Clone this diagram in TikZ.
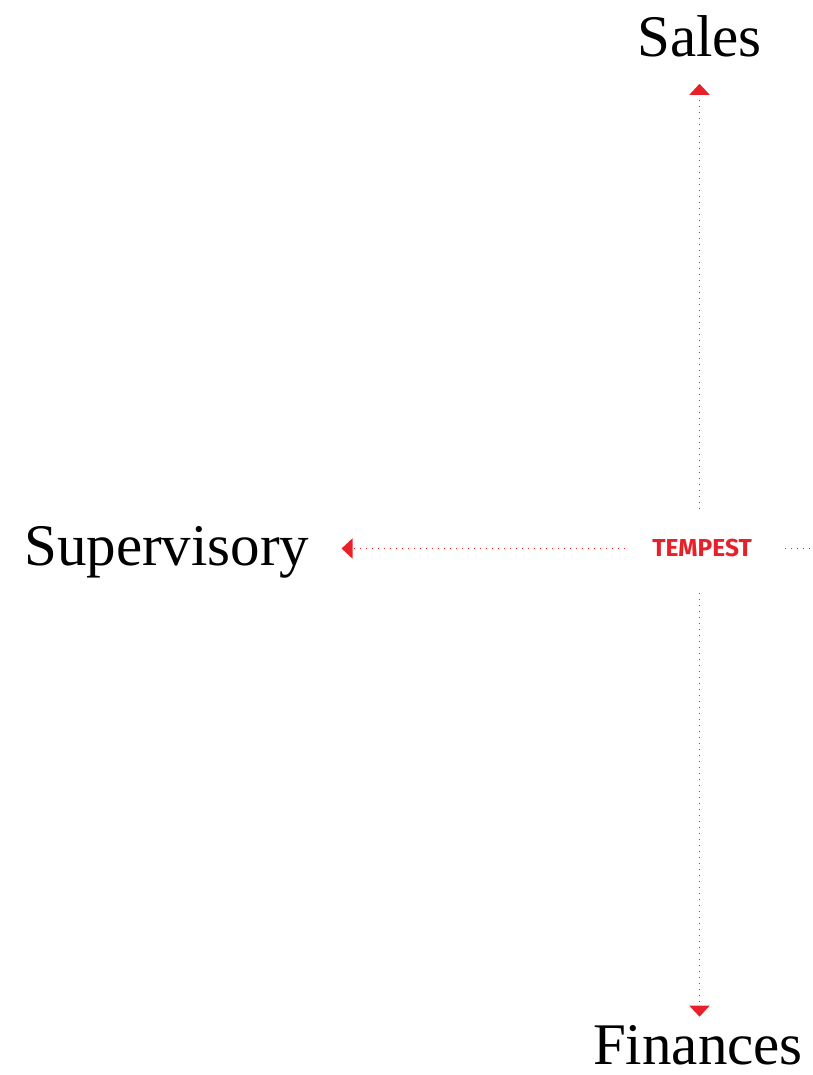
\documentclass[tikz,border=0pt]{standalone}
\usepackage{fontspec}
\setmainfont{Liberation Serif}
\newfontfamily\tempfont{Fira Sans}
\usetikzlibrary{arrows.meta}
\definecolor{tred}{HTML}{E8202A}
\tikzset{
  label/.style={inner sep=0pt, font=\fontsize{59pt}{59pt}\selectfont, text=black},
  hub/.style={inner sep=0pt, font=\tempfont\bfseries\fontsize{24.5pt}{24.5pt}\selectfont, text=tred},
  link/.style={draw=tred, line width=1.4pt, dash pattern=on 1.4pt off 4.6pt},
  arr/.style={link, -{Triangle[width=20pt,length=11pt]}, tred}
}
\begin{document}
\begin{tikzpicture}[x=1pt,y=-1pt]
\useasboundingbox (0,0) rectangle (812,1075);
\clip (0,0) rectangle (812,1075);
\node[hub] (tempest) at (702,548.5) {TEMPEST};
\node[label, anchor=base] (sales) at (699.5,57) {Sales};
\node[label, anchor=base west] (sup) at (24,565) {Supervisory};
\node[label, anchor=base] (fin) at (698,1064) {Finances};
\coordinate (east) at (812,548.5);
\draw[arr] ([xshift=-2.5pt,yshift=30pt]tempest.north) coordinate (tn) -- ([yshift=-26pt]tn |- sales.south);
\draw[arr] ([xshift=-2.5pt,yshift=-35pt]tempest.south) coordinate (ts) -- ([yshift=8pt]ts |- fin.north);
\draw[arr] ([xshift=-27pt]tempest.west) coordinate (tw) -- ([xshift=32pt]tw -| sup.east);
\draw[link] ([xshift=33pt]tempest.east) -- (east);
\end{tikzpicture}
\end{document}
